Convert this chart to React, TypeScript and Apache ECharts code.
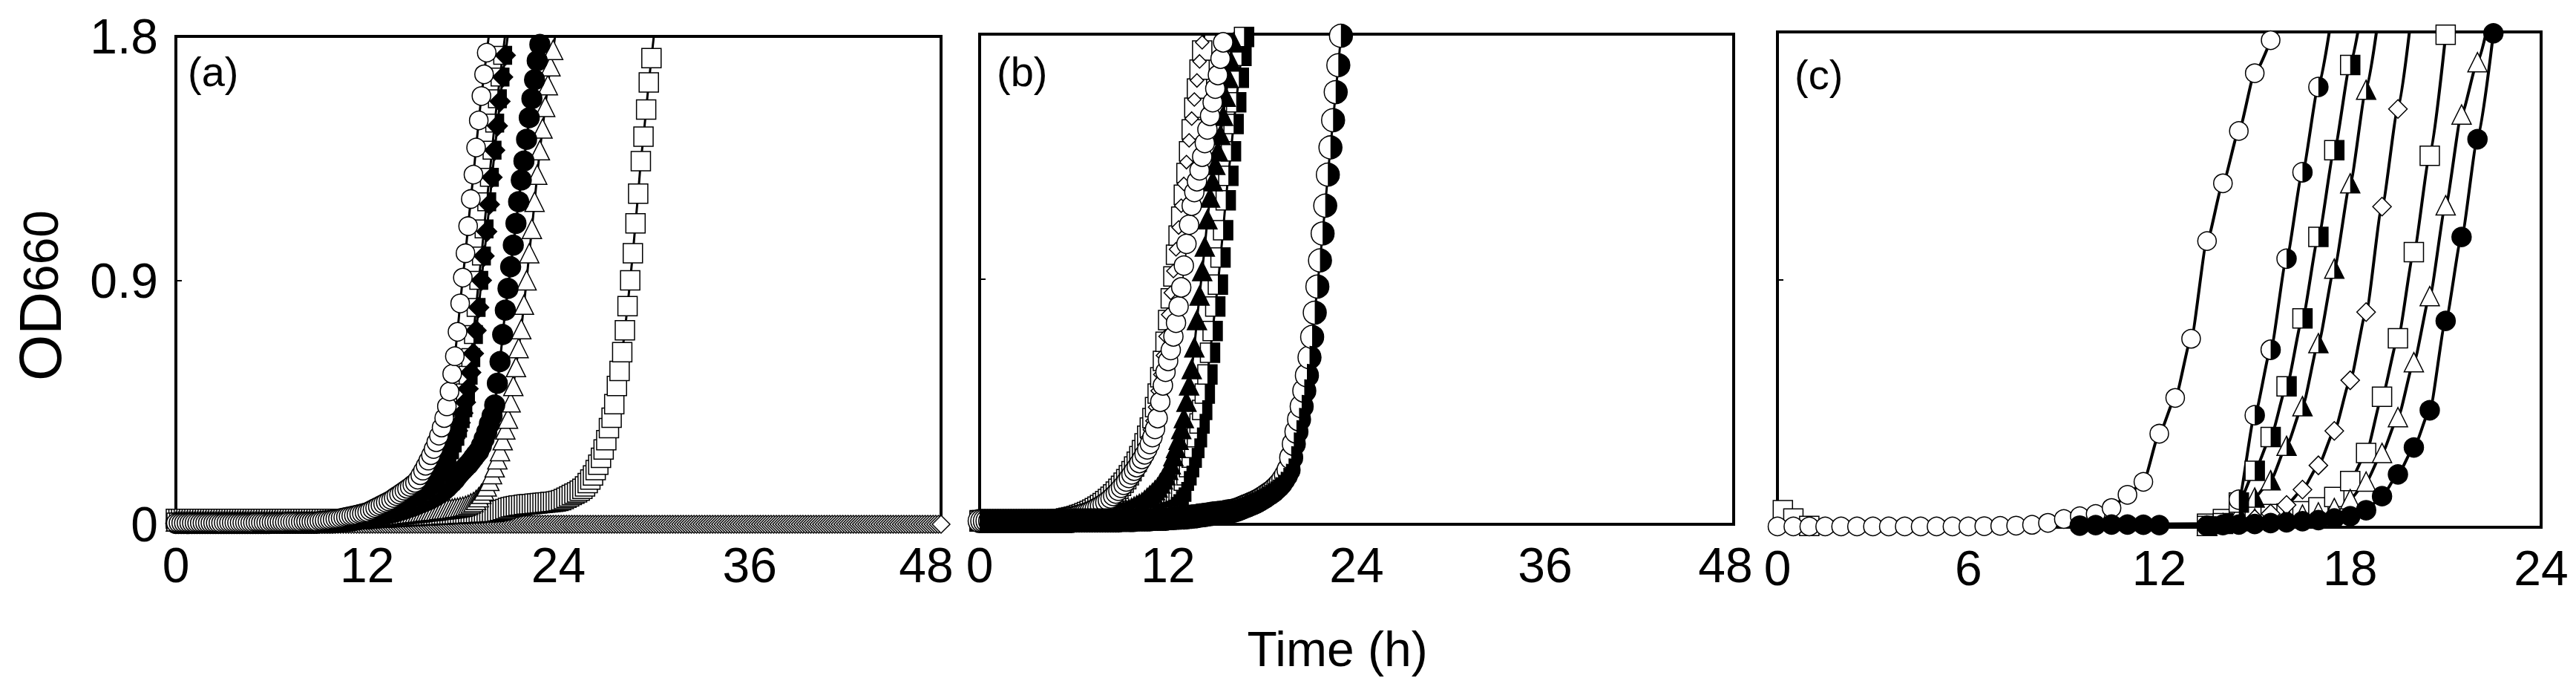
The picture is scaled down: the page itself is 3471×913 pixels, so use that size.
import React, { useEffect, useRef } from "react";
import * as echarts from "echarts";

const FONT = '"Liberation Sans", Arial, Helvetica, sans-serif';

// ---------- axis ticks / labels ----------
const X_MAX_AB = 48;
const X_INT_AB = 12;
const X_MAX_C = 24;
const X_INT_C = 6;
const Y_MAX = 1.8;
const Y_INT = 0.9;
const PANEL_LABELS = ["(a)", "(b)", "(c)"];
const X_TITLE = "Time (h)";

// sampling step (h) of panels (a) and (b): readings every 10 min
const STEP_AB = 1 / 6;

// ---------- panel (a) : OD660 every 10 min from t = 0 ----------
const A_OD_OPEN_DIAMOND = [
  0,0,0,0,0,0,0,0,0,0,0,0, 0,0,0,0,0,0,0,0,0,0,0,0, 0,0,0,0,0,0,0,0,0,0,0,0,
  0,0,0,0,0,0,0,0,0,0,0,0, 0,0,0,0,0,0,0,0,0,0,0,0, 0,0,0,0,0,0,0,0,0,0,0,0,
  0,0,0,0,0,0,0,0,0,0,0,0, 0,0,0,0,0,0,0,0,0,0,0,0, 0,0,0,0,0,0,0,0,0,0,0,0,
  0,0,0,0,0,0,0,0,0,0,0,0, 0,0,0,0,0,0,0,0,0,0,0,0, 0,0,0,0,0,0,0,0,0,0,0,0,
  0,0,0,0,0,0,0,0,0,0,0,0, 0,0,0,0,0,0,0,0,0,0,0,0, 0,0,0,0,0,0,0,0,0,0,0,0,
  0,0,0,0,0,0,0,0,0,0,0,0, 0,0,0,0,0,0,0,0,0,0,0,0, 0,0,0,0,0,0,0,0,0,0,0,0,
  0,0,0,0,0,0,0,0,0,0,0,0, 0,0,0,0,0,0,0,0,0,0,0,0, 0,0,0,0,0,0,0,0,0,0,0,0,
  0,0,0,0,0,0,0,0,0,0,0,0, 0,0,0,0,0,0,0,0,0,0,0,0, 0,0,0,0,0,0,0,0,0,0,0,0,
  0,
];

const A_OD_OPEN_SQUARE = [
  0.02,0.02,0.02,0.02,0.02,0.02,0.02,0.02,0.02,0.02,0.02,0.02,
  0.02,0.02,0.02,0.02,0.02,0.02,0.02,0.02,0.02,0.02,0.02,0.02,
  0.02,0.02,0.02,0.02,0.02,0.02,0.02,0.02,0.02,0.02,0.02,0.02,
  0.02,0.02,0.02,0.02,0.02,0.02,0.02,0.02,0.02,0.02,0.02,0.02,
  0.02,0.02,0.02,0.02,0.02,0.02,0.02,0.02,0.02,0.02,0.02,0.02,
  0.02,0.02,0.02,0.02,0.02,0.02,0.02,0.02,0.02,0.02,0.02,0.02,
  0.022,0.022,0.023,0.023,0.024,0.024,
  0.025,0.025,0.026,0.026,0.027,0.027,
  0.028,0.028,0.029,0.029,0.03,0.03,
  0.031,0.031,0.032,0.032,0.033,0.033,
  0.034,0.034,0.035,0.035,0.036,0.036,
  0.037,0.037,0.038,0.038,0.039,0.039,
  0.04,0.04,0.041,0.041,0.042,0.042,
  0.043,0.043,0.044,0.044,0.045,0.045,
  0.046,0.048,0.05,0.053,0.056,0.06,
  0.063,0.065,0.067,0.069,0.07,0.072,
  0.073,0.074,0.075,0.076,0.077,0.078,
  0.079,0.08,0.081,0.082,0.083,0.084,
  0.086,0.089,0.093,0.098,0.103,0.108,
  0.113,0.118,0.124,0.131,0.14,0.152,
  0.165,0.18,0.2,0.22,0.245,0.276,
  0.31,0.355,0.393,0.443,0.51,0.566,
  0.635,0.716,0.805,0.9,1.0,1.11,
  1.22,1.34,1.43,1.53,1.63,1.72,
  1.81,
];

const A_OD_OPEN_TRIANGLE = [
  0.01,0.01,0.01,0.01,0.01,0.01,0.01,0.01,0.01,0.01,0.01,0.01,
  0.01,0.01,0.01,0.01,0.01,0.01,0.01,0.01,0.01,0.01,0.01,0.01,
  0.01,0.01,0.01,0.01,0.01,0.01,0.01,0.01,0.01,0.01,0.01,0.01,
  0.01,0.01,0.01,0.01,0.01,0.01,0.01,0.01,0.01,0.01,0.01,0.01,
  0.01,0.01,0.01,0.01,0.01,0.01,
  0.012,0.012,0.013,0.013,0.014,0.014,
  0.015,0.015,0.016,0.016,0.017,0.017,
  0.018,0.018,0.019,0.019,0.02,0.021,
  0.022,0.023,0.024,0.025,0.026,0.027,
  0.028,0.029,0.03,0.032,0.033,0.034,
  0.035,0.036,0.037,0.039,0.04,0.041,
  0.042,0.043,0.044,0.046,0.047,0.048,
  0.049,0.05,0.051,0.053,0.054,0.055,
  0.056,0.057,0.058,0.06,0.061,0.063,
  0.065,0.068,0.072,0.077,0.082,0.09,
  0.1,0.112,0.125,0.14,0.16,0.185,
  0.21,0.24,0.27,0.31,0.35,0.39,
  0.45,0.51,0.58,0.65,0.72,0.81,
  0.9,1.0,1.09,1.19,1.29,1.38,
  1.46,1.54,1.62,1.69,1.75,1.82,
];

const A_OD_FILLED_CIRCLE = [
  0.003,0.003,0.003,0.003,0.003,0.003,0.003,0.003,0.003,0.003,0.003,0.003,
  0.003,0.003,0.003,0.003,0.003,0.003,0.003,0.003,0.003,0.003,0.003,0.003,
  0.003,0.003,0.003,0.003,0.003,0.003,0.003,0.003,0.003,0.003,0.003,0.003,
  0.004,0.004,0.004,0.004,0.004,0.004,0.004,0.004,0.004,0.004,0.004,0.004,
  0.004,0.004,0.004,0.004,0.004,0.004,
  0.005,0.005,0.005,0.005,0.005,0.005,
  0.006,0.007,0.008,0.009,0.01,0.011,
  0.012,0.014,0.016,0.018,0.02,0.022,
  0.025,0.026,0.028,0.03,0.032,0.034,
  0.036,0.038,0.04,0.042,0.045,0.047,
  0.05,0.053,0.056,0.06,0.063,0.066,
  0.07,0.074,0.078,0.082,0.086,0.09,
  0.095,0.1,0.106,0.112,0.119,0.127,
  0.135,0.145,0.155,0.165,0.178,0.19,
  0.2,0.21,0.22,0.232,0.245,0.258,
  0.27,0.29,0.315,0.34,0.37,0.4,
  0.44,0.52,0.6,0.7,0.79,0.87,
  0.95,1.03,1.11,1.19,1.27,1.34,
  1.42,1.5,1.57,1.64,1.71,1.77,
  1.84,
];

const A_OD_HALF_SQUARE = [
  0.008,0.008,0.008,0.008,0.008,0.008,0.008,0.008,0.008,0.008,0.008,0.008,
  0.008,0.008,0.008,0.008,0.008,0.008,0.008,0.008,0.008,0.008,0.008,0.008,
  0.008,0.008,0.008,0.008,0.008,0.008,0.008,0.008,0.008,0.008,0.008,0.008,
  0.008,0.008,0.008,0.008,0.008,0.008,0.008,0.008,0.008,0.008,0.008,0.008,
  0.008,0.008,0.008,0.008,0.008,0.008,
  0.009,0.009,0.01,0.01,0.011,0.011,
  0.012,0.013,0.014,0.015,0.016,0.017,
  0.018,0.019,0.02,0.021,0.023,0.024,
  0.026,0.028,0.03,0.033,0.036,0.04,
  0.044,0.049,0.054,0.059,0.064,0.069,
  0.074,0.079,0.084,0.09,0.096,0.103,
  0.109,0.116,0.123,0.13,0.137,0.145,
  0.152,0.163,0.178,0.195,0.213,0.232,
  0.252,0.275,0.3,0.325,0.355,0.39,
  0.43,0.485,0.55,0.615,0.7,0.8,
  0.9,0.99,1.09,1.19,1.28,1.38,
  1.48,1.57,1.65,1.73,1.81,
];

const A_OD_FILLED_DIAMOND = [
  0.004,0.004,0.004,0.004,0.004,0.004,0.004,0.004,0.004,0.004,0.004,0.004,
  0.004,0.004,0.004,0.004,0.004,0.004,0.004,0.004,0.004,0.004,0.004,0.004,
  0.004,0.004,0.004,0.004,0.004,0.004,0.004,0.004,0.004,0.004,0.004,0.004,
  0.005,0.005,0.005,0.005,0.005,0.005,0.005,0.005,0.005,0.005,0.005,0.005,
  0.005,0.005,0.005,0.005,0.005,0.005,
  0.006,0.006,0.007,0.007,0.008,0.008,
  0.009,0.01,0.011,0.012,0.013,0.014,
  0.015,0.016,0.017,0.018,0.02,0.021,
  0.023,0.025,0.027,0.03,0.033,0.036,
  0.04,0.044,0.048,0.052,0.057,0.062,
  0.067,0.072,0.077,0.083,0.09,0.097,
  0.104,0.111,0.118,0.125,0.133,0.142,
  0.15,0.162,0.177,0.193,0.21,0.228,
  0.248,0.27,0.293,0.318,0.345,0.375,
  0.41,0.45,0.5,0.56,0.63,0.715,
  0.8,0.9,0.99,1.08,1.18,1.28,
  1.38,1.47,1.56,1.65,1.73,1.81,
];

const A_OD_OPEN_CIRCLE = [
  0.005,0.005,0.005,0.005,0.005,0.005,0.005,0.005,0.005,0.005,0.005,0.005,
  0.005,0.005,0.005,0.005,0.005,0.005,0.006,0.006,0.006,0.006,0.006,0.006,
  0.006,0.006,0.006,0.006,0.006,0.006,0.007,0.007,0.007,0.007,0.007,0.007,
  0.008,0.008,0.008,0.008,0.008,0.008,0.009,0.009,0.009,0.009,0.009,0.009,
  0.01,0.01,0.01,0.01,0.01,0.01,
  0.012,0.013,0.014,0.015,0.016,0.018,
  0.02,0.021,0.023,0.025,0.027,0.029,
  0.031,0.033,0.035,0.038,0.04,0.043,
  0.045,0.05,0.055,0.06,0.065,0.07,
  0.075,0.08,0.085,0.09,0.097,0.104,
  0.11,0.117,0.124,0.131,0.138,0.146,
  0.153,0.165,0.181,0.198,0.216,0.235,
  0.255,0.278,0.303,0.327,0.357,0.392,
  0.435,0.49,0.555,0.62,0.71,0.815,
  0.91,1.0,1.1,1.2,1.29,1.39,
  1.49,1.58,1.66,1.74,1.82,
];

// ---------- panel (b) : OD660 every 10 min from t = 0 ----------
const B_OD_OPEN_SQUARE = [
  0.015,0.015,0.015,0.015,0.015,0.015,0.015,0.015,0.015,0.015,0.015,0.015,
  0.015,0.015,0.015,0.015,0.015,0.015,0.015,0.015,0.015,0.015,0.015,0.015,
  0.015,0.015,0.015,0.015,0.015,0.015,
  0.018,0.019,0.02,0.022,0.024,0.026,
  0.028,0.031,0.034,0.037,0.041,0.045,
  0.049,0.054,0.059,0.065,0.071,0.078,
  0.085,0.093,0.101,0.11,0.12,0.13,
  0.141,0.153,0.166,0.18,0.195,0.212,
  0.23,0.25,0.272,0.297,0.325,0.355,
  0.39,0.43,0.48,0.54,0.6,0.67,
  0.75,0.83,0.91,0.99,1.06,1.13,
  1.21,1.29,1.37,1.45,1.53,1.6,
  1.67,1.74,1.81,
];

const B_OD_OPEN_DIAMOND = [
  0.014,0.014,0.014,0.014,0.014,0.014,0.014,0.014,0.014,0.014,0.014,0.014,
  0.014,0.014,0.014,0.014,0.014,0.014,0.014,0.014,0.014,0.014,0.014,0.014,
  0.014,0.014,0.014,0.014,0.014,0.014,
  0.016,0.017,0.018,0.02,0.022,0.024,
  0.026,0.029,0.032,0.035,0.039,0.043,
  0.047,0.052,0.057,0.063,0.069,0.076,
  0.083,0.091,0.099,0.108,0.118,0.128,
  0.139,0.151,0.164,0.178,0.193,0.209,
  0.226,0.245,0.266,0.29,0.317,0.347,
  0.38,0.43,0.49,0.55,0.62,0.69,
  0.77,0.85,0.93,1.01,1.09,1.17,
  1.25,1.33,1.41,1.49,1.56,1.63,
  1.7,1.77,1.84,
];

const B_OD_HALF_SQUARE = [
  0.012,0.012,0.012,0.012,0.012,0.012,0.012,0.012,0.012,0.012,0.012,0.012,
  0.012,0.012,0.012,0.012,0.012,0.012,0.012,0.012,0.012,0.012,0.012,0.012,
  0.013,0.013,0.013,0.013,0.013,0.013,
  0.014,0.014,0.014,0.014,0.014,0.014,
  0.015,0.015,0.016,0.016,0.017,0.017,
  0.018,0.018,0.019,0.019,0.02,0.02,
  0.021,0.022,0.022,0.023,0.024,0.025,
  0.026,0.027,0.028,0.029,0.03,0.031,
  0.032,0.033,0.034,0.035,0.036,0.037,
  0.039,0.041,0.043,0.045,0.048,0.051,
  0.055,0.065,0.075,0.087,0.1,0.12,
  0.16,0.18,0.21,0.245,0.28,0.32,
  0.37,0.42,0.48,0.55,0.63,0.71,
  0.8,0.88,0.98,1.08,1.19,1.28,
  1.37,1.47,1.55,1.64,1.72,1.79,
  1.87,
];

const B_OD_FILLED_TRIANGLE = [
  0.01,0.01,0.01,0.01,0.01,0.01,0.01,0.01,0.01,0.01,0.01,0.01,
  0.01,0.01,0.01,0.01,0.01,0.01,0.01,0.01,0.01,0.01,0.01,0.01,
  0.011,0.012,0.013,0.014,0.015,0.016,
  0.017,0.018,0.019,0.02,0.021,0.022,
  0.023,0.024,0.025,0.026,0.027,0.028,
  0.029,0.03,0.031,0.032,0.033,0.034,
  0.035,0.036,0.038,0.04,0.042,0.044,
  0.046,0.049,0.052,0.056,0.06,0.065,
  0.07,0.075,0.08,0.088,0.097,0.106,
  0.115,0.125,0.135,0.15,0.165,0.18,
  0.2,0.22,0.25,0.28,0.31,0.35,
  0.39,0.45,0.51,0.57,0.65,0.75,
  0.84,0.93,1.02,1.12,1.2,1.26,
  1.32,1.37,1.43,1.5,1.57,1.64,
  1.7,1.77,1.84,
];

const B_OD_OPEN_CIRCLE = [
  0.012,0.012,0.012,0.012,0.012,0.012,0.012,0.012,0.012,0.012,0.012,0.012,
  0.012,0.012,0.012,0.012,0.012,0.012,0.012,0.012,0.012,0.012,0.012,0.012,
  0.012,0.013,0.014,0.016,0.017,0.019,
  0.02,0.021,0.022,0.024,0.026,0.028,
  0.03,0.032,0.035,0.038,0.041,0.044,
  0.048,0.052,0.057,0.062,0.067,0.073,
  0.08,0.087,0.095,0.104,0.113,0.123,
  0.134,0.145,0.157,0.17,0.183,0.197,
  0.21,0.225,0.24,0.257,0.275,0.295,
  0.32,0.35,0.39,0.45,0.51,0.56,
  0.6,0.64,0.69,0.74,0.8,0.87,
  0.95,1.03,1.1,1.17,1.22,1.26,
  1.3,1.35,1.4,1.45,1.5,1.55,
  1.6,1.65,1.71,1.77,1.83,
];

const B_OD_HALF_CIRCLE = [
  0.012,0.012,0.012,0.012,0.012,0.012,0.012,0.012,0.012,0.012,0.012,0.012,
  0.012,0.012,0.012,0.012,0.012,0.012,0.012,0.012,0.012,0.012,0.012,0.012,
  0.012,0.012,0.012,0.012,0.012,0.012,0.012,0.012,0.012,0.012,0.012,0.012,
  0.014,0.014,0.014,0.014,0.014,0.014,0.014,0.014,0.014,0.014,0.014,0.014,
  0.014,0.014,0.014,0.014,0.014,0.014,
  0.016,0.016,0.016,0.016,0.016,0.016,
  0.018,0.018,0.018,0.018,0.018,0.018,
  0.02,0.02,0.02,0.02,0.02,0.02,
  0.022,0.023,0.023,0.024,0.024,0.025,
  0.025,0.026,0.027,0.028,0.029,0.03,
  0.032,0.033,0.034,0.036,0.037,0.039,
  0.04,0.041,0.042,0.043,0.045,0.047,
  0.048,0.05,0.053,0.056,0.06,0.064,
  0.068,0.072,0.076,0.08,0.085,0.09,
  0.096,0.102,0.109,0.115,0.122,0.131,
  0.14,0.151,0.165,0.18,0.2,0.245,
  0.295,0.34,0.385,0.433,0.49,0.547,
  0.613,0.688,0.777,0.873,0.969,1.068,
  1.17,1.284,1.384,1.484,1.587,1.686,
  1.794,1.9,
];

// ---------- panel (c) : [time (h), OD660] ----------
const C_OPEN_SQUARE = [
  [0.17, 0.062], [0.5, 0.032], [1, 0.005], [13.5, 0.013], [14, 0.03], [14.5, 0.042],
  [15, 0.045], [15.5, 0.048], [16, 0.05], [16.5, 0.058], [17, 0.072], [17.5, 0.11],
  [18, 0.168], [18.5, 0.27], [19, 0.474], [19.5, 0.687], [20, 1.0], [20.5, 1.35], [21, 1.79],
];
const C_OPEN_TRIANGLE = [
  [13.5, 0.005], [14, 0.012], [14.5, 0.022], [15, 0.032], [15.5, 0.038], [16, 0.042],
  [16.5, 0.046], [17, 0.054], [17.5, 0.07], [18, 0.102], [18.5, 0.166], [19, 0.27],
  [19.5, 0.4], [20, 0.6], [20.5, 0.84], [21, 1.17], [21.5, 1.5], [22, 1.69], [22.5, 1.92],
];
const C_OPEN_DIAMOND = [
  [13.5, 0.005], [14, 0.01], [14.5, 0.018], [15, 0.03], [15.5, 0.049], [16, 0.081],
  [16.5, 0.137], [17, 0.225], [17.5, 0.35], [18, 0.534], [18.5, 0.782], [19, 1.165],
  [19.5, 1.52], [20, 1.94],
];
const C_HALF_TRIANGLE = [
  [13.5, 0.005], [14, 0.015], [14.5, 0.05], [15, 0.108], [15.5, 0.171], [16, 0.296],
  [16.5, 0.44], [17, 0.669], [17.5, 0.94], [18, 1.25], [18.5, 1.59], [19, 1.95],
];
const C_HALF_SQUARE = [
  [13.5, 0.005], [14, 0.015], [14.5, 0.09], [15, 0.205], [15.5, 0.328], [16, 0.512],
  [16.5, 0.759], [17, 1.055], [17.5, 1.37], [18, 1.68], [18.5, 1.98],
];
const C_HALF_CIRCLE = [
  [13.5, 0.005], [14, 0.01], [14.5, 0.1], [15, 0.407], [15.5, 0.645], [16, 0.976],
  [16.5, 1.29], [17, 1.6], [17.5, 1.92],
];
const C_OPEN_CIRCLE = [
  [0, 0.003], [0.5, 0.003], [1, 0.003], [1.5, 0.003], [2, 0.003], [2.5, 0.003], [3, 0.003],
  [3.5, 0.003], [4, 0.003], [4.5, 0.003], [5, 0.003], [5.5, 0.003], [6, 0.003], [6.5, 0.004],
  [7, 0.005], [7.5, 0.006], [8, 0.009], [8.5, 0.016], [9, 0.03], [9.5, 0.04], [10, 0.048],
  [10.5, 0.07], [11, 0.118], [11.5, 0.165], [12, 0.34], [12.5, 0.47], [13, 0.685],
  [13.5, 1.04], [14, 1.25], [14.5, 1.44], [15, 1.65], [15.5, 1.77],
];
const C_FILLED_CIRCLE = [
  [9.5, 0.006], [10, 0.008], [10.5, 0.01], [11, 0.01], [11.5, 0.009], [12, 0.008],
  [13.5, 0.005], [14, 0.008], [14.5, 0.01], [15, 0.012], [15.5, 0.015], [16, 0.018],
  [16.5, 0.022], [17, 0.026], [17.5, 0.032], [18, 0.04], [18.5, 0.062], [19, 0.113],
  [19.5, 0.192], [20, 0.29], [20.5, 0.425], [21, 0.75], [21.5, 1.055], [22, 1.41], [22.5, 1.795],
];

// ---------- helpers ----------
const HALF_CIRCLE_PATH = "path://M0,0A10,10 0 0,1 0,20Z";
const HALF_TRIANGLE_PATH = "path://M0,0L10,20L0,20Z";

function steps(values: number[]): number[][] {
  return values.map((v, i) => [i * STEP_AB, v]);
}

function line(
  data: number[][],
  grid: number,
  symbol: string,
  size: number,
  filled: boolean,
  lineWidth: number,
  smooth: number | boolean = false
) {
  return {
    type: "line",
    xAxisIndex: grid,
    yAxisIndex: grid,
    data,
    symbol,
    symbolSize: size,
    showSymbol: true,
    showAllSymbol: true,
    smooth,
    smoothMonotone: "x",
    clip: true,
    silent: true,
    lineStyle: { color: "#000", width: lineWidth },
    itemStyle: { color: filled ? "#000" : "#fff", borderColor: "#000", borderWidth: 1.5, opacity: 1 },
    emphasis: { disabled: true },
  };
}

function half(data: number[][], grid: number, kind: string, size: number) {
  const symbol = kind === "circle" ? HALF_CIRCLE_PATH : kind === "triangle" ? HALF_TRIANGLE_PATH : "rect";
  return {
    type: "line",
    xAxisIndex: grid,
    yAxisIndex: grid,
    data,
    symbol,
    symbolSize: [size / 2, size],
    symbolOffset: [size / 4, 0],
    showSymbol: true,
    showAllSymbol: true,
    clip: true,
    silent: true,
    lineStyle: { opacity: 0, width: 0 },
    itemStyle: { color: "#000", borderWidth: 0, opacity: 1 },
    emphasis: { disabled: true },
  };
}

function xAxis(grid: number, max: number, interval: number, lastShift: number) {
  return {
    type: "value",
    gridIndex: grid,
    min: 0,
    max,
    interval,
    axisLine: { show: false },
    axisTick: { show: false },
    splitLine: { show: false },
    axisLabel: {
      fontSize: 66,
      fontFamily: FONT,
      color: "#000",
      margin: 22,
      formatter: (v: number) => (v === max && lastShift > 0 ? `{s|${v}}` : `${v}`),
      rich: { s: { fontSize: 66, fontFamily: FONT, color: "#000", padding: [0, lastShift * 2, 0, 0] } },
    },
  };
}

function yAxis(grid: number, showLabels: boolean) {
  return {
    type: "value",
    gridIndex: grid,
    min: 0,
    max: Y_MAX,
    interval: Y_INT,
    axisLine: { show: false },
    splitLine: { show: false },
    axisTick: { show: true, inside: true, length: 8, lineStyle: { color: "#000", width: 2 } },
    axisLabel: {
      show: showLabels,
      fontSize: 66,
      fontFamily: FONT,
      color: "#000",
      margin: 24,
      formatter: (v: number) => (v === 0 ? "0" : v.toFixed(1)),
    },
  };
}

const gridStyle = { show: true, borderColor: "#000", borderWidth: 4, backgroundColor: "transparent" };

function buildOption() {
  const aOD = steps(A_OD_OPEN_DIAMOND);
  const aOS = steps(A_OD_OPEN_SQUARE);
  const aOT = steps(A_OD_OPEN_TRIANGLE);
  const aFC = steps(A_OD_FILLED_CIRCLE);
  const aHS = steps(A_OD_HALF_SQUARE);
  const aFD = steps(A_OD_FILLED_DIAMOND);
  const aOC = steps(A_OD_OPEN_CIRCLE);

  const bOS = steps(B_OD_OPEN_SQUARE);
  const bODm = steps(B_OD_OPEN_DIAMOND);
  const bHS = steps(B_OD_HALF_SQUARE);
  const bFT = steps(B_OD_FILLED_TRIANGLE);
  const bOC = steps(B_OD_OPEN_CIRCLE);
  const bHC = steps(B_OD_HALF_CIRCLE);

  const series: any[] = [
    // panel (a)
    line(aOD, 0, "diamond", 24, false, 3),
    line(aOS, 0, "rect", 26, false, 3),
    line(aOT, 0, "triangle", 26, false, 3),
    line(aFC, 0, "circle", 27, true, 3),
    line(aHS, 0, "rect", 24, false, 3),
    half(aHS, 0, "rect", 24),
    line(aFD, 0, "diamond", 27, true, 3),
    line(aOC, 0, "circle", 25, false, 3),
    // panel (b)
    line(bOS, 1, "rect", 26, false, 3),
    line(bODm, 1, "diamond", 18, false, 3),
    line(bHS, 1, "rect", 26, false, 3),
    half(bHS, 1, "rect", 26),
    line(bFT, 1, "triangle", 26, true, 3),
    line(bOC, 1, "circle", 26, false, 3),
    line(bHC, 1, "circle", 31, false, 3),
    half(bHC, 1, "circle", 31),
    // panel (c)
    line(C_OPEN_SQUARE, 2, "rect", 26, false, 4, 0.2),
    line(C_OPEN_TRIANGLE, 2, "triangle", 26, false, 4, 0.2),
    line(C_OPEN_DIAMOND, 2, "diamond", 25, false, 4, 0.2),
    line(C_HALF_TRIANGLE, 2, "triangle", 26, false, 4, 0.2),
    half(C_HALF_TRIANGLE, 2, "triangle", 26),
    line(C_HALF_SQUARE, 2, "rect", 26, false, 4, 0.2),
    half(C_HALF_SQUARE, 2, "rect", 26),
    line(C_HALF_CIRCLE, 2, "circle", 26, false, 4, 0.2),
    half(C_HALF_CIRCLE, 2, "circle", 26),
    line(C_OPEN_CIRCLE, 2, "circle", 25, false, 4, 0.2),
    line(C_FILLED_CIRCLE, 2, "circle", 26, true, 4, 0.2),
  ];

  return {
    animation: false,
    backgroundColor: "#fff",
    grid: [
      { left: 237, top: 49, width: 1031, height: 657, ...gridStyle },
      { left: 1320, top: 46, width: 1016, height: 660, ...gridStyle },
      { left: 2395, top: 43, width: 1029, height: 667, ...gridStyle },
    ],
    xAxis: [xAxis(0, X_MAX_AB, X_INT_AB, 20), xAxis(1, X_MAX_AB, X_INT_AB, 11), xAxis(2, X_MAX_C, X_INT_C, 0)],
    yAxis: [yAxis(0, true), yAxis(1, false), yAxis(2, false)],
    series,
    graphic: [
      {
        type: "text",
        x: 253,
        y: 96,
        style: { text: PANEL_LABELS[0], fontSize: 56, fontFamily: FONT, fill: "#000", align: "left", verticalAlign: "middle" },
      },
      {
        type: "text",
        x: 1343,
        y: 96,
        style: { text: PANEL_LABELS[1], fontSize: 56, fontFamily: FONT, fill: "#000", align: "left", verticalAlign: "middle" },
      },
      {
        type: "text",
        x: 2418,
        y: 100,
        style: { text: PANEL_LABELS[2], fontSize: 56, fontFamily: FONT, fill: "#000", align: "left", verticalAlign: "middle" },
      },
      {
        type: "text",
        x: 1802,
        y: 874,
        style: { text: X_TITLE, fontSize: 66, fontFamily: FONT, fill: "#000", align: "center", verticalAlign: "middle" },
      },
      {
        type: "text",
        x: 54,
        y: 398,
        rotation: Math.PI / 2,
        style: {
          text: "{a|OD}{b|660}",
          fill: "#000",
          align: "center",
          verticalAlign: "middle",
          rich: {
            a: { fontSize: 80, fontFamily: FONT, fill: "#000", color: "#000", verticalAlign: "bottom" },
            b: { fontSize: 66, fontFamily: FONT, fill: "#000", color: "#000", verticalAlign: "bottom", padding: [0, 0, 6, 0] },
          },
        },
      },
    ],
  };
}

export default function App() {
  const ref = useRef<HTMLDivElement>(null);
  useEffect(() => {
    if (!ref.current) return;
    const chart = echarts.init(ref.current, null, { renderer: "svg" });
    chart.setOption(buildOption() as any);
    return () => chart.dispose();
  }, []);
  return (
    <div
      ref={ref}
      style={{ position: "absolute", left: 0, top: 0, width: 3471, height: 913, background: "#fff" }}
    />
  );
}
